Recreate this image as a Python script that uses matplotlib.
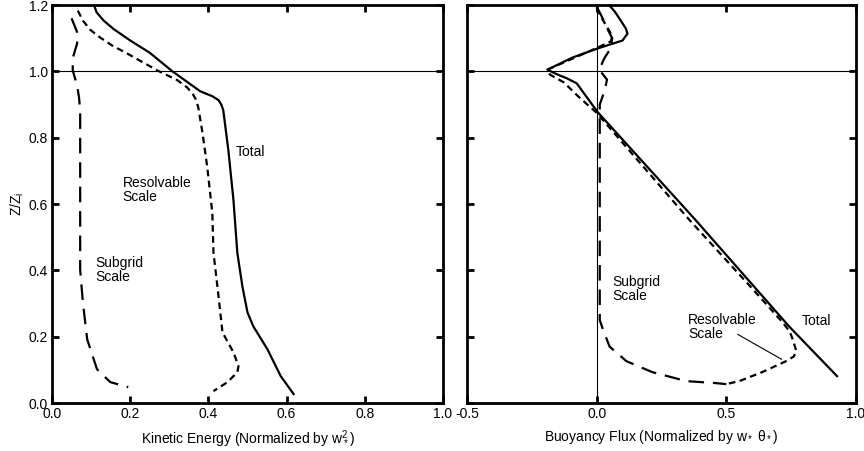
import matplotlib.pyplot as plt

plt.rcParams["font.family"] = ["Liberation Sans", "DejaVu Sans"]
plt.rcParams["mathtext.fontset"] = "custom"
plt.rcParams["mathtext.rm"] = "Liberation Sans"
plt.rcParams["mathtext.it"] = "Liberation Sans"

# kinetic energy profiles (z/zi vs normalized TKE)
ke_total_x = [0.108, 0.114, 0.132, 0.157, 0.200, 0.250, 0.308, 0.379, 0.410, 0.426,
              0.433, 0.438, 0.451, 0.464, 0.474, 0.487, 0.500, 0.515, 0.551, 0.585,
              0.618]
ke_total_z = [1.198, 1.178, 1.153, 1.128, 1.093, 1.056, 1.000, 0.940, 0.925, 0.913,
              0.900, 0.883, 0.763, 0.613, 0.453, 0.351, 0.273, 0.231, 0.162, 0.081,
              0.027]
ke_res_x = [0.066, 0.079, 0.098, 0.123, 0.155, 0.192, 0.269, 0.321, 0.345, 0.359,
            0.368, 0.374, 0.385, 0.397, 0.410, 0.413, 0.426, 0.436, 0.464, 0.477,
            0.474, 0.449, 0.413]
ke_res_z = [1.183, 1.153, 1.125, 1.102, 1.077, 1.054, 1.003, 0.973, 0.952, 0.934,
            0.915, 0.892, 0.814, 0.712, 0.574, 0.453, 0.321, 0.213, 0.153, 0.111,
            0.093, 0.063, 0.036]
ke_sgs_x = [0.050, 0.066, 0.064, 0.053, 0.053, 0.064, 0.069, 0.072, 0.072, 0.072,
            0.079, 0.090, 0.115, 0.149, 0.195]
ke_sgs_z = [1.160, 1.113, 1.083, 1.040, 1.003, 0.958, 0.922, 0.883, 0.561, 0.402,
            0.303, 0.192, 0.102, 0.063, 0.048]

# buoyancy flux profiles
bf_total_x = [0.050, 0.070, 0.088, 0.112, 0.119, 0.100, 0.004, -0.092, -0.190,
              -0.150, -0.115, -0.077, -0.038, 0.004, 0.380, 0.742, 0.927]
bf_total_z = [1.198, 1.180, 1.159, 1.130, 1.114, 1.093, 1.069, 1.042, 1.005,
              0.990, 0.979, 0.964, 0.922, 0.877, 0.553, 0.231, 0.081]
bf_res_x = [0.000, 0.020, 0.060, 0.055, -0.030, -0.190, -0.180, -0.127, -0.065,
            0.000, 0.360, 0.600, 0.715, 0.745, 0.757, 0.770, 0.760, 0.730, 0.638,
            0.550, 0.500]
bf_res_z = [1.190, 1.160, 1.107, 1.090, 1.060, 1.005, 0.990, 0.967, 0.920,
            0.875, 0.550, 0.345, 0.245, 0.215, 0.190, 0.156, 0.140, 0.126, 0.093,
            0.066, 0.057]
bf_sgs_x = [0.000, 0.020, 0.040, 0.060, 0.055, 0.030, 0.010, 0.040, 0.030, 0.012,
            0.012, 0.012, 0.012, 0.025, 0.050, 0.115, 0.215, 0.346, 0.460, 0.500]
bf_sgs_z = [1.195, 1.165, 1.130, 1.100, 1.070, 1.040, 1.005, 0.975, 0.940, 0.900,
            0.850, 0.550, 0.250, 0.220, 0.170, 0.126, 0.093, 0.066, 0.060, 0.057]

z_ticks = [0.0, 0.2, 0.4, 0.6, 0.8, 1.0, 1.2]
ke_ticks = [0.0, 0.2, 0.4, 0.6, 0.8, 1.0]
bf_ticks = [-0.5, 0.0, 0.5, 1.0]

lw = 1.6
short_dash = (3, 2)
long_dash = (7, 4)
line_kw = dict(color="black", lw=lw, solid_joinstyle="round", dash_joinstyle="round")

fig = plt.figure(figsize=(8.64, 4.51), dpi=100)
ax1 = fig.add_axes([0.0602, 0.1064, 0.4525, 0.8825])
ax2 = fig.add_axes([0.5405, 0.1064, 0.4502, 0.8825])


def style(ax, xticks, xlim):
    ax.set_xlim(*xlim)
    ax.set_ylim(0.0, 1.2)
    ax.set_xticks(xticks)
    ax.set_yticks(z_ticks)
    ax.tick_params(direction="in", length=5, width=2, top=True, right=True,
                   labelsize=10, pad=3, colors="black")
    for sp in ax.spines.values():
        sp.set_linewidth(2.0)
    ax.axhline(1.0, color="black", lw=0.8)


style(ax1, ke_ticks, (0.0, 1.0))
ax1.set_xticklabels([f"{t:.1f}" for t in ke_ticks])
ax1.set_yticklabels([f"{t:.1f}" for t in z_ticks])
ax1.plot(ke_total_x, ke_total_z, **line_kw)
ax1.plot(ke_res_x, ke_res_z, dashes=short_dash, **line_kw)
ax1.plot(ke_sgs_x, ke_sgs_z, dashes=long_dash, **line_kw)
ax1.text(0.469, 0.757, "Total", fontsize=10, va="center")
ax1.text(0.18, 0.643, "Resolvable\nScale", fontsize=10, va="center", linespacing=1.0)
ax1.text(0.11, 0.40, "Subgrid\nScale", fontsize=10, va="center", linespacing=1.0)
ax1.set_xlabel(r"Kinetic Energy (Normalized by w$_*^2$)", fontsize=10, labelpad=5)
ax1.set_ylabel(r"Z/Z$_\mathregular{i}$", fontsize=10, labelpad=2)

style(ax2, bf_ticks, (-0.5, 1.0))
ax2.set_xticklabels([f"{t:.1f}" for t in bf_ticks])
ax2.set_yticklabels([])
ax2.axvline(0.0, color="black", lw=0.8)
ax2.plot(bf_total_x, bf_total_z, **line_kw)
ax2.plot(bf_res_x, bf_res_z, dashes=short_dash, **line_kw)
ax2.plot(bf_sgs_x, bf_sgs_z, dashes=long_dash, **line_kw)
ax2.text(0.061, 0.345, "Subgrid\nScale", fontsize=10, va="center", linespacing=1.0)
ax2.text(0.352, 0.23, "Resolvable\nScale", fontsize=10, va="center", linespacing=1.0)
ax2.text(0.79, 0.246, "Total", fontsize=10, va="center")
ax2.plot([0.544, 0.713], [0.207, 0.132], color="black", lw=0.8)
ax2.set_xlabel(r"Buoyancy Flux (Normalized by w$_*$ $\theta_*$)", fontsize=10, labelpad=5)

fig.savefig("out.png", dpi=100)
